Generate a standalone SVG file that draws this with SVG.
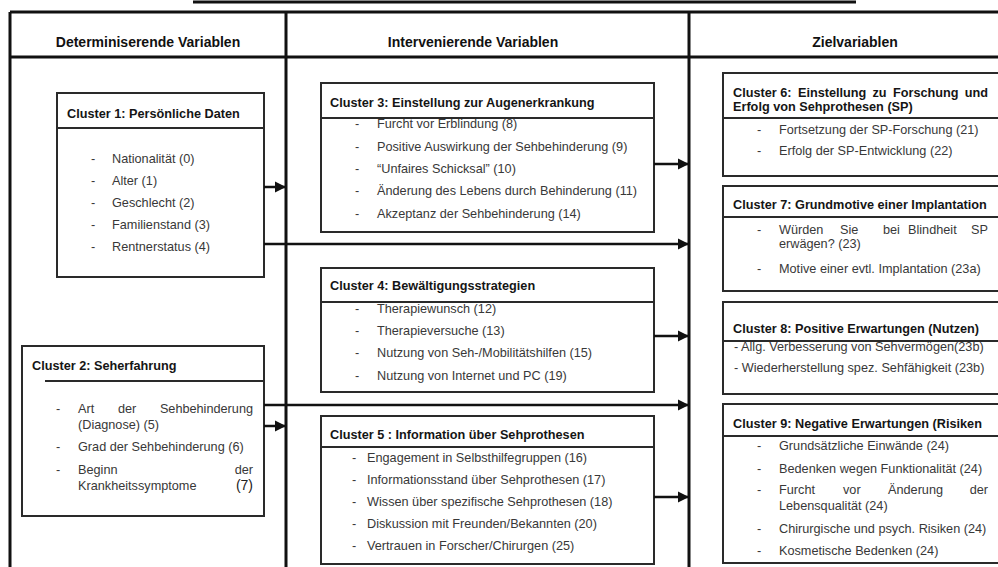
<svg xmlns="http://www.w3.org/2000/svg" width="998" height="567" viewBox="0 0 998 567">
<defs>
<marker id="ah" markerUnits="userSpaceOnUse" markerWidth="12" markerHeight="12" refX="11" refY="6" orient="auto">
<path d="M0,0.5 L11,6 L0,11.5 Z" fill="#111"/>
</marker>
<style>
.frame{stroke:#111;stroke-width:3;fill:none}
.box{stroke:#2a2a2a;stroke-width:2;fill:#fff}
.div{stroke:#2a2a2a;stroke-width:2}
.hd{font-family:"Liberation Sans",Arial,sans-serif;font-weight:bold;font-size:14px;fill:#111;text-anchor:middle}
.tt{font-family:"Liberation Sans",Arial,sans-serif;font-weight:bold;font-size:12.7px;fill:#151515}
.it{font-family:"Liberation Sans",Arial,sans-serif;font-size:12.7px;fill:#383838}
.end{text-anchor:end}
.arr{stroke:#111;stroke-width:2.5;fill:none;marker-end:url(#ah)}
</style>
</defs>
<rect width="998" height="567" fill="#fff"/>
<g id="frame">
<line x1="193" y1="2" x2="856" y2="2" stroke="#111" stroke-width="3"/>
<line class="frame" x1="10" y1="12" x2="1000" y2="12"/>
<line class="frame" x1="10" y1="57" x2="1000" y2="57"/>
<line class="frame" x1="10" y1="12" x2="10" y2="570"/>
<line class="frame" x1="286" y1="12" x2="286" y2="570"/>
<line class="frame" x1="689" y1="12" x2="689" y2="570"/>
<text class="hd" x="148" y="47">Determiniserende Variablen</text>
<text class="hd" x="473" y="47">Intervenierende Variablen</text>
<text class="hd" x="855" y="47">Zielvariablen</text>
</g>
<g id="cluster1">
<rect class="box" x="57" y="93" width="207" height="184"/>
<line class="div" x1="57" y1="128" x2="264" y2="128"/>
<text class="tt" x="67" y="118">Cluster 1: Persönliche Daten</text>
<g class="it">
<text x="91" y="163">-</text><text x="112" y="163">Nationalität (0)</text>
<text x="91" y="185">-</text><text x="112" y="185">Alter (1)</text>
<text x="91" y="207">-</text><text x="112" y="207">Geschlecht (2)</text>
<text x="91" y="229">-</text><text x="112" y="229">Familienstand (3)</text>
<text x="91" y="251">-</text><text x="112" y="251">Rentnerstatus (4)</text>
</g>
</g>
<g id="cluster2">
<rect class="box" x="22" y="346" width="242" height="170"/>
<line class="div" x1="45" y1="381" x2="264" y2="381"/>
<text class="tt" x="32" y="370">Cluster 2: Seherfahrung</text>
<g class="it">
<text x="56" y="413">-</text><text x="78" y="413">Art</text><text x="118" y="413">der</text><text class="end" x="253" y="413">Sehbehinderung</text>
<text x="78" y="429">(Diagnose) (5)</text>
<text x="56" y="451">-</text><text x="78" y="451">Grad der Sehbehinderung (6)</text>
<text x="56" y="474">-</text><text x="78" y="474">Beginn</text><text class="end" x="253" y="474">der</text>
<text x="78" y="490">Krankheitssymptome</text><text class="end" x="253" y="490" style="font-size:14px;fill:#222">(7)</text>
</g>
</g>
<g id="cluster3">
<rect class="box" x="321" y="83" width="333" height="149"/>
<line class="div" x1="321" y1="118" x2="654" y2="118"/>
<text class="tt" x="330" y="107">Cluster 3: Einstellung zur Augenerkrankung</text>
<g class="it">
<text x="355" y="128">-</text><text x="377" y="128">Furcht vor Erblindung (8)</text>
<text x="355" y="151">-</text><text x="377" y="151">Positive Auswirkung der Sehbehinderung (9)</text>
<text x="355" y="173">-</text><text x="377" y="173">“Unfaires Schicksal” (10)</text>
<text x="355" y="195">-</text><text x="377" y="195">Änderung des Lebens durch Behinderung (11)</text>
<text x="355" y="218">-</text><text x="377" y="218">Akzeptanz der Sehbehinderung (14)</text>
</g>
</g>
<g id="cluster4">
<rect class="box" x="321" y="268" width="333" height="124"/>
<line class="div" x1="321" y1="302" x2="654" y2="302"/>
<text class="tt" x="330" y="290">Cluster 4: Bewältigungsstrategien</text>
<g class="it">
<text x="355" y="313">-</text><text x="377" y="313">Therapiewunsch (12)</text>
<text x="355" y="335">-</text><text x="377" y="335">Therapieversuche (13)</text>
<text x="355" y="357">-</text><text x="377" y="357">Nutzung von Seh-/Mobilitätshilfen (15)</text>
<text x="355" y="380">-</text><text x="377" y="380">Nutzung von Internet und PC (19)</text>
</g>
</g>
<g id="cluster5">
<rect class="box" x="321" y="416" width="333" height="148"/>
<line class="div" x1="321" y1="447" x2="654" y2="447"/>
<text class="tt" x="330" y="439">Cluster 5 : Information über Sehprothesen</text>
<g class="it">
<text x="352" y="462">-</text><text x="367" y="462">Engagement in Selbsthilfegruppen (16)</text>
<text x="352" y="484">-</text><text x="367" y="484">Informationsstand über Sehprothesen (17)</text>
<text x="352" y="506">-</text><text x="367" y="506">Wissen über spezifische Sehprothesen (18)</text>
<text x="352" y="528">-</text><text x="367" y="528">Diskussion mit Freunden/Bekannten (20)</text>
<text x="352" y="550">-</text><text x="367" y="550">Vertrauen in Forscher/Chirurgen (25)</text>
</g>
</g>
<g id="cluster6">
<rect class="box" x="723" y="73" width="280" height="103"/>
<line class="div" x1="723" y1="118" x2="1000" y2="118"/>
<text class="tt" y="97"><tspan x="733">Cluster 6:</tspan><tspan x="798">Einstellung</tspan><tspan x="872.5">zu</tspan><tspan x="893">Forschung</tspan></text>
<text class="tt end" x="988" y="97">und</text>
<text class="tt" x="733" y="111">Erfolg von Sehprothesen (SP)</text>
<g class="it">
<text x="757" y="134">-</text><text x="779" y="134">Fortsetzung der SP-Forschung (21)</text>
<text x="757" y="155">-</text><text x="779" y="155">Erfolg der SP-Entwicklung (22)</text>
</g>
</g>
<g id="cluster7">
<rect class="box" x="723" y="186" width="280" height="105"/>
<line class="div" x1="723" y1="217" x2="1000" y2="217"/>
<text class="tt" x="733" y="209">Cluster 7: Grundmotive einer Implantation</text>
<g class="it">
<text x="757" y="234">-</text><text y="234"><tspan x="779">Würden</tspan><tspan x="840">Sie</tspan><tspan x="883">bei</tspan><tspan x="908">Blindheit</tspan></text><text class="end" x="988" y="234">SP</text>
<text x="779" y="248">erwägen? (23)</text>
<text x="757" y="273">-</text><text x="779" y="273">Motive einer evtl. Implantation (23a)</text>
</g>
</g>
<g id="cluster8">
<rect class="box" x="723" y="302" width="280" height="92"/>
<line class="div" x1="723" y1="341" x2="1000" y2="341"/>
<text class="tt" x="733" y="333">Cluster 8: Positive Erwartungen (Nutzen)</text>
<g class="it">
<text x="734" y="351">- Allg. Verbesserung von Sehvermögen(23b)</text>
<text x="734" y="372">- Wiederherstellung spez. Sehfähigkeit (23b)</text>
</g>
</g>
<g id="cluster9">
<rect class="box" x="723" y="404" width="280" height="159"/>
<line class="div" x1="723" y1="436" x2="1000" y2="436"/>
<text class="tt" x="733" y="428">Cluster 9: Negative Erwartungen (Risiken</text>
<g class="it">
<text x="757" y="450">-</text><text x="779" y="450">Grundsätzliche Einwände (24)</text>
<text x="757" y="473">-</text><text x="779" y="473">Bedenken wegen Funktionalität (24)</text>
<text x="757" y="494">-</text><text y="494"><tspan x="779">Furcht</tspan><tspan x="843">vor</tspan><tspan x="888">Änderung</tspan></text><text class="end" x="988" y="494">der</text>
<text x="779" y="510">Lebensqualität (24)</text>
<text x="757" y="533">-</text><text x="779" y="533">Chirurgische und psych. Risiken (24)</text>
<text x="757" y="555">-</text><text x="779" y="555">Kosmetische Bedenken (24)</text>
</g>
</g>
<g id="connectors">
<line class="arr" x1="264" y1="187" x2="286" y2="187"/>
<line class="arr" x1="264" y1="244" x2="689" y2="244"/>
<line class="arr" x1="264" y1="405" x2="689" y2="405"/>
<line class="arr" x1="264" y1="426" x2="286" y2="426"/>
<line class="arr" x1="654" y1="164" x2="689" y2="164"/>
<line class="arr" x1="654" y1="336" x2="689" y2="336"/>
<line class="arr" x1="654" y1="497" x2="689" y2="497"/>
</g>
</svg>
